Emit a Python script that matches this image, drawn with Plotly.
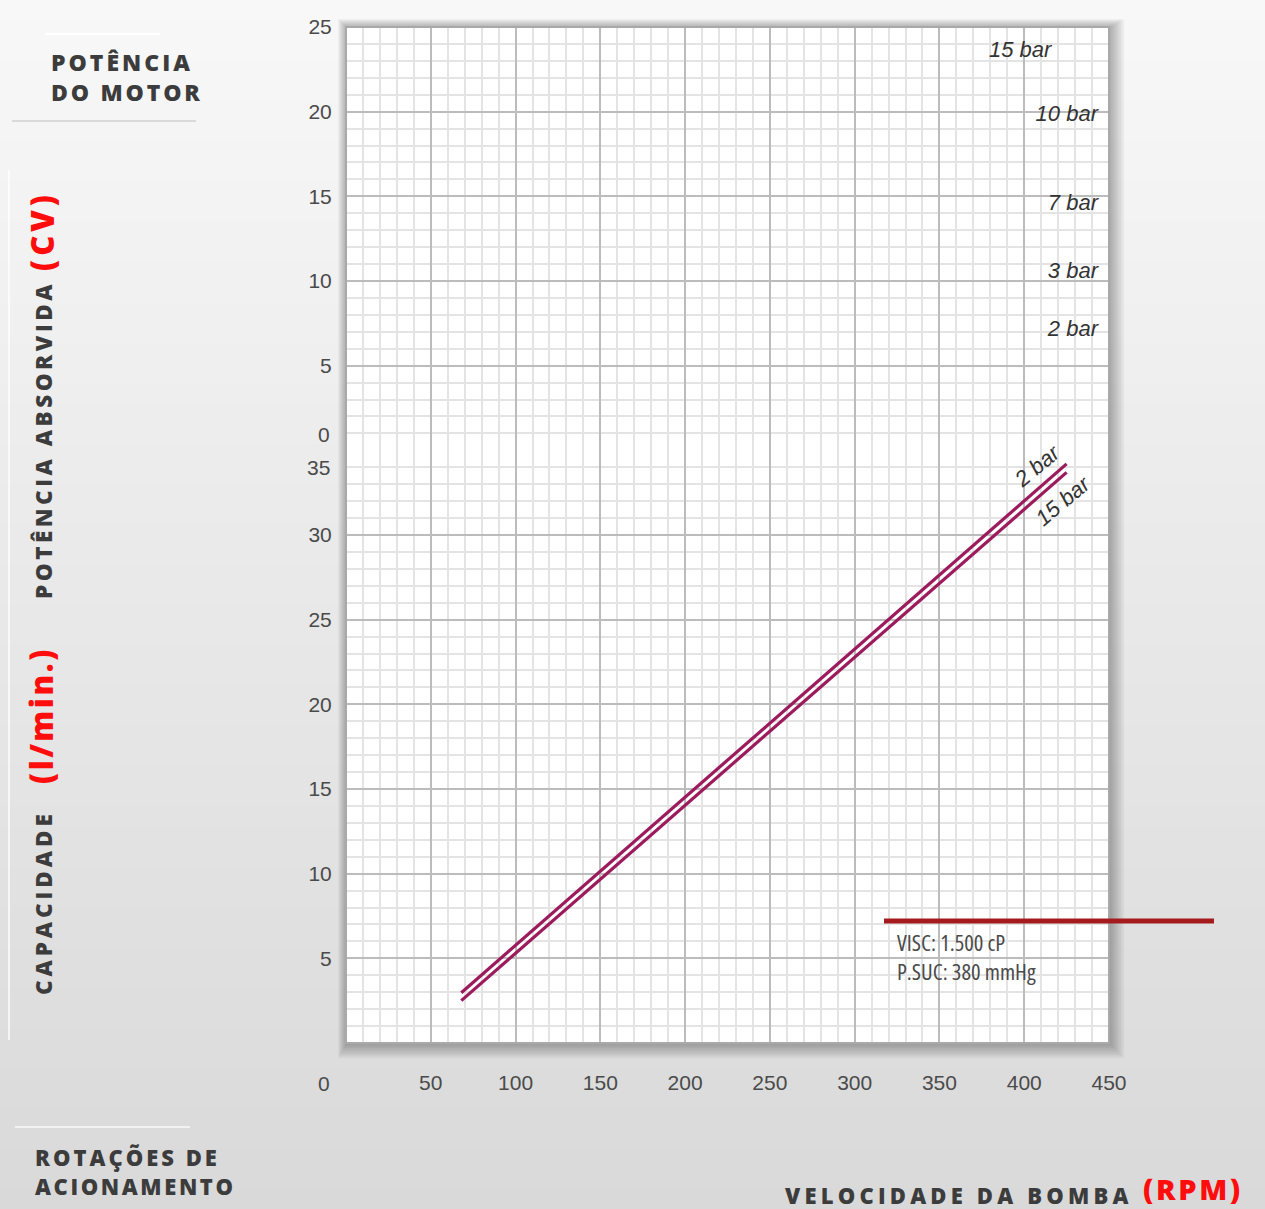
import plotly.graph_objects as go

# ---------------- data ----------------
rpm_line = [68, 425]
cap_2bar = [2.97, 34.2]
cap_15bar = [2.5, 33.7]

x_ticks = [50, 100, 150, 200, 250, 300, 350, 400, 450]
cap_ticks = [5, 10, 15, 20, 25, 30]
pow_ticks = [5, 10, 15, 20, 25]

bar_labels = ["15 bar", "10 bar", "7 bar", "3 bar", "2 bar"]
bar_label_rpm = [416, 443.5, 443.5, 443.5, 443.5]
bar_label_pow = [23.55, 19.8, 14.5, 10.5, 7.1]

# ---------------- geometry helpers (pixel -> paper) ----------------
W, H = 1265, 1209
L, R, T, B = 346, 1109, 27, 1043
PW, PH = R - L, B - T


def px(x):
    return (x - L) / PW


def py(y):
    return (B - y) / PH


def spaced(text, sp, extra=""):
    return '<span style="letter-spacing:%spx;%s">%s</span>' % (sp, extra, text)


split = 35 / 60

TXT = "#3c3c3c"
TICKFONT = dict(family="Liberation Sans, Arial", size=21, color="#4a4a4a")
SANS = "Liberation Sans, Arial"
LINECOL = "#9b1b5c"

fig = go.Figure()

fig.add_trace(go.Scatter(x=rpm_line, y=cap_2bar, mode="lines",
                         line=dict(color=LINECOL, width=3.2), xaxis="x", yaxis="y",
                         showlegend=False, hoverinfo="skip"))
fig.add_trace(go.Scatter(x=rpm_line, y=cap_15bar, mode="lines",
                         line=dict(color=LINECOL, width=3.2), xaxis="x", yaxis="y",
                         showlegend=False, hoverinfo="skip"))
fig.add_trace(go.Scatter(x=bar_label_rpm, y=bar_label_pow, mode="text", text=bar_labels,
                         textposition="middle left", cliponaxis=False,
                         textfont=dict(family=SANS, size=22, color="#333333", style="italic"),
                         xaxis="x", yaxis="y2", showlegend=False, hoverinfo="skip"))

grid_major = "#bcbcbc"
grid_minor = "#e4e4e4"

fig.update_layout(
    width=W, height=H,
    margin=dict(l=L, r=W - R, t=T, b=H - B),
    paper_bgcolor="#e8e8e8",
    plot_bgcolor="white",
    xaxis=dict(range=[0, 450], tickvals=x_ticks, showgrid=True, gridcolor=grid_major, gridwidth=2,
               minor=dict(dtick=10, tick0=0, showgrid=True, gridcolor=grid_minor, gridwidth=2),
               ticks="outside", ticklen=21, tickcolor="rgba(0,0,0,0)", tickfont=TICKFONT,
               zeroline=False, showline=False, anchor="y", fixedrange=True),
    yaxis=dict(domain=[0, split], range=[0, 35], tickvals=cap_ticks, showgrid=True,
               gridcolor=grid_major, gridwidth=2,
               minor=dict(dtick=1, tick0=0, showgrid=True, gridcolor=grid_minor, gridwidth=2),
               ticks="outside", ticklen=9, tickcolor="rgba(0,0,0,0)", tickfont=TICKFONT,
               zeroline=False, showline=False, anchor="x"),
    yaxis2=dict(domain=[split, 1], range=[0, 25], tickvals=pow_ticks, showgrid=True,
                gridcolor=grid_major, gridwidth=2,
                minor=dict(dtick=1, tick0=0, showgrid=True, gridcolor=grid_minor, gridwidth=2),
                ticks="outside", ticklen=9, tickcolor="rgba(0,0,0,0)", tickfont=TICKFONT,
                zeroline=False, showline=False, anchor="x"),
)

shapes = []
# background vertical gradient
n = 60
top_c, bot_c = (248, 248, 248), (217, 217, 217)
for i in range(n):
    f = i / (n - 1)
    c = tuple(round(top_c[k] + (bot_c[k] - top_c[k]) * f) for k in range(3))
    y0 = i * H / n
    y1 = (i + 1) * H / n + 1
    shapes.append(dict(type="rect", xref="paper", yref="paper", x0=px(0), x1=px(W),
                       y0=py(y1), y1=py(y0), line=dict(width=0),
                       fillcolor="rgb(%d,%d,%d)" % c, layer="below"))
# plot shadow
for k in range(9, 0, -1):
    shapes.append(dict(type="rect", xref="paper", yref="paper",
                       x0=px(L - k + 1), x1=px(R + k * 1.7), y0=py(B + k * 1.7), y1=py(T - k + 1),
                       line=dict(width=0), fillcolor="rgba(0,0,0,0.035)", layer="below"))
# plot area
shapes.append(dict(type="rect", xref="paper", yref="paper", x0=0, x1=1, y0=0, y1=1,
                   line=dict(width=0), fillcolor="white", layer="below"))
# plot border
shapes.append(dict(type="rect", xref="paper", yref="paper", x0=0, x1=1, y0=0, y1=1,
                   line=dict(width=2, color="#a9a9a9"), fillcolor="rgba(0,0,0,0)", layer="above"))
# red marker line
shapes.append(dict(type="line", xref="paper", yref="paper", x0=px(884), x1=px(1214),
                   y0=py(921), y1=py(921), line=dict(width=5, color="#a51b1d"), layer="above"))
# separator lines on the left
shapes.append(dict(type="line", xref="paper", yref="paper", x0=px(12), x1=px(196),
                   y0=py(121), y1=py(121), line=dict(width=2, color="#d9d9d9"), layer="below"))
shapes.append(dict(type="line", xref="paper", yref="paper", x0=px(45), x1=px(160),
                   y0=py(34), y1=py(34), line=dict(width=2, color="#ffffff"), layer="below"))
shapes.append(dict(type="line", xref="paper", yref="paper", x0=px(15), x1=px(190),
                   y0=py(1127), y1=py(1127), line=dict(width=2, color="#f2f2f2"), layer="below"))
shapes.append(dict(type="line", xref="paper", yref="paper", x0=px(9), x1=px(9),
                   y0=py(170), y1=py(1040), line=dict(width=2, color="rgba(255,255,255,0.7)"),
                   layer="below"))
fig.update_layout(shapes=shapes)

HEAD = "Open Sans, Lato, sans-serif"
RED = "#ff0d0d"


def bold(size, color=TXT):
    return dict(family=HEAD, size=size, color=color, weight=800)


COND = "font-family:'Open Sans';font-stretch:75%"

ann = []
# extra tick labels
ann.append(dict(text="0", x=px(324), y=py(1083), xref="paper", yref="paper", showarrow=False,
                xanchor="center", yanchor="middle", font=TICKFONT))
ann.append(dict(text="0", x=px(332), y=py(435), xref="paper", yref="paper", showarrow=False,
                xanchor="right", yanchor="middle", font=TICKFONT))
ann.append(dict(text="35", x=px(332), y=py(467), xref="paper", yref="paper", showarrow=False,
                xanchor="right", yanchor="middle", font=TICKFONT))
# rotated line labels
ann.append(dict(text="2 bar", x=408, y=34.1, xref="x", yref="y", showarrow=False, textangle=-40,
                font=dict(family=SANS, size=22, color="#333333", style="italic")))
ann.append(dict(text="15 bar", x=423, y=32.05, xref="x", yref="y", showarrow=False, textangle=-40,
                font=dict(family=SANS, size=22, color="#333333", style="italic")))
# conditions (one block, two lines)
ann.append(dict(text=spaced("VISC: 1.500 cP", 0, COND) + "<br>" + spaced("P.SUC: 380 mmHg", 0, COND),
                x=px(895), y=py(957), xref="paper", yref="paper",
                showarrow=False, xanchor="left", yanchor="middle", align="left",
                font=dict(family="Open Sans", size=22.5, color="#4a4a4a")))
# left headings
ann.append(dict(text=spaced("POTÊNCIA", 3.0) + "<br>" + spaced("DO MOTOR", 2.8),
                x=px(49), y=py(77), xref="paper", yref="paper",
                showarrow=False, xanchor="left", yanchor="middle", align="left", font=bold(23)))
ann.append(dict(text=spaced("ROTAÇÕES DE", 3.0) + "<br>" + spaced("ACIONAMENTO", 2.6),
                x=px(33), y=py(1171), xref="paper", yref="paper",
                showarrow=False, xanchor="left", yanchor="middle", align="left", font=bold(22)))
# vertical axis titles
ann.append(dict(text=spaced("POTÊNCIA ABSORVIDA", 3.5), x=px(43), y=py(440), xref="paper", yref="paper",
                showarrow=False, textangle=-90, xanchor="center", yanchor="middle", font=bold(22.5)))
ann.append(dict(text=spaced("(CV)", 4), x=px(42), y=py(231), xref="paper", yref="paper",
                showarrow=False, textangle=-90, xanchor="center", yanchor="middle",
                font=bold(31, RED)))
ann.append(dict(text=spaced("CAPACIDADE", 3.9), x=px(43), y=py(903), xref="paper", yref="paper",
                showarrow=False, textangle=-90, xanchor="center", yanchor="middle", font=bold(22.5)))
ann.append(dict(text=spaced("(l/min.)", 2.5), x=px(41), y=py(716), xref="paper", yref="paper",
                showarrow=False, textangle=-90, xanchor="center", yanchor="middle",
                font=bold(31, RED)))
# bottom axis title
ann.append(dict(text=spaced("VELOCIDADE DA BOMBA", 4.2), x=px(959), y=py(1195), xref="paper", yref="paper",
                showarrow=False, xanchor="center", yanchor="middle", font=bold(22)))
ann.append(dict(text=spaced("(RPM)", 2.6), x=px(1193), y=py(1188), xref="paper", yref="paper",
                showarrow=False, xanchor="center", yanchor="middle", font=bold(29, RED)))
fig.update_layout(annotations=ann)

fig.write_html("out.html", config={"displayModeBar": False},
               post_script="document.body.style.margin='0px';")
